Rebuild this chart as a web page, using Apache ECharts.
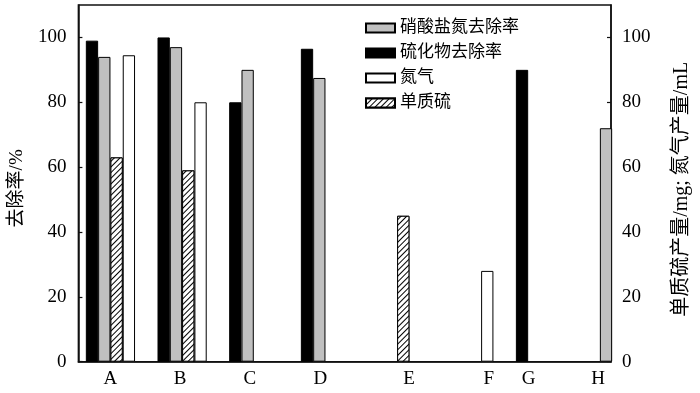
<!DOCTYPE html>
<html>
<head>
<meta charset="utf-8">
<script src="https://cdn.jsdelivr.net/npm/echarts@6/dist/echarts.min.js"></script>
<style>
html,body{margin:0;padding:0;background:#fff;}
#chart{width:700px;height:393px;}
</style>
</head>
<body>
<div id="chart"></div>
<script>
// ---- data ----
const categories = ['A', 'B', 'C', 'D', 'E', 'F', 'G', 'H'];
const sulfideRemoval = [99, 100, 80, 96.5, null, null, 90, null];     // 硫化物去除率 (%)
const nitrateRemoval = [94, 97, 90, 87.5, null, null, null, 72];      // 硝酸盐氮去除率 (%)
const sulfurYield = [63, 59, null, null, 45, null, null, null];       // 单质硫产量 (mg)
const nitrogenYield = [94.5, 80, null, null, null, 28, null, null];   // 氮气产量 (mL)
const yTicks = [0, 20, 40, 60, 80, 100];

const seriesNames = {
  nitrate: '硝酸盐氮去除率',
  sulfide: '硫化物去除率',
  nitrogen: '氮气',
  sulfur: '单质硫'
};

// layout only: small horizontal nudges (px) of the category letters, as in the original figure
const labelNudge = [0, -2, -4, -5, 12, 20, -12, -14];

const toData = arr => arr.map(v => (v == null ? '-' : v));

const FONT = "'Liberation Serif', 'Noto Sans CJK SC', serif";
const AXIS_COLOR = '#111';

const chart = echarts.init(document.getElementById('chart'), null, { renderer: 'canvas' });

const labelRich = {};
labelNudge.forEach((n, i) => {
  labelRich['c' + i] = {
    fontFamily: FONT, fontSize: 19, color: '#000',
    padding: n >= 0 ? [0, 0, 0, 2 * n] : [0, -2 * n, 0, 0]
  };
});

const visibleY = (position, name, nameGap, fontSize, pad) => ({
  gridIndex: 0,
  type: 'value',
  position: position,
  min: 0,
  max: 110,
  interval: 20,
  name: name,
  nameLocation: 'middle',
  nameRotate: 90,
  nameGap: nameGap,
  nameTextStyle: { fontFamily: FONT, fontSize: fontSize, color: '#000', padding: pad },
  axisLine: { show: true, lineStyle: { color: AXIS_COLOR, width: 1.5 } },
  axisTick: { show: true, inside: true, length: 4, lineStyle: { color: AXIS_COLOR, width: 1.2 }, customValues: yTicks },
  axisLabel: { show: true, fontFamily: FONT, fontSize: 19, color: '#000', margin: position === 'left' ? 12 : 11, customValues: yTicks },
  splitLine: { show: false }
});

const hiddenY = (position) => ({
  gridIndex: 1,
  type: 'value',
  position: position,
  min: 0,
  max: 110,
  interval: 20,
  show: false,
  splitLine: { show: false }
});

const BAR_GAP = '0%';
const CAT_GAP = '31.35%';

const option = {
  animation: false,
  backgroundColor: '#fff',
  grid: [
    { left: 78, right: 77, top: 5, bottom: 31.3, show: true, borderColor: AXIS_COLOR, borderWidth: 1.5, backgroundColor: 'transparent' },
    { left: 74.6, width: 573.4, top: 5, bottom: 31.3 }
  ],
  legend: {
    orient: 'vertical',
    left: 360,
    top: 14.5,
    itemWidth: 29,
    itemHeight: 9,
    itemGap: 8,
    icon: 'rect',
    data: [seriesNames.nitrate, seriesNames.sulfide, seriesNames.nitrogen, seriesNames.sulfur],
    textStyle: { fontFamily: FONT, fontSize: 17, color: '#000' }
  },
  xAxis: [
    {
      gridIndex: 0, type: 'category', data: categories,
      axisLine: { show: true, lineStyle: { color: AXIS_COLOR, width: 1.5 } },
      axisTick: { show: false }, axisLabel: { show: false }, splitLine: { show: false }
    },
    {
      gridIndex: 1, type: 'category', data: categories,
      axisLine: { show: false }, axisTick: { show: false },
      axisLabel: {
        show: true, fontFamily: FONT, fontSize: 19, color: '#000', margin: 8,
        formatter: (value, index) => '{c' + index + '|' + value + '}',
        rich: labelRich
      },
      splitLine: { show: false }
    }
  ],
  yAxis: [
    visibleY('left', '去除率/%', 48, 19, [0, 10, 0, 0]),
    visibleY('right', '单质硫产量/mg; 氮气产量/mL', 61, 20, [0, 12, 0, 0]),
    hiddenY('left'),
    hiddenY('right')
  ],
  series: [
    {
      name: seriesNames.sulfide, type: 'bar', xAxisIndex: 1, yAxisIndex: 2,
      data: toData(sulfideRemoval),
      barGap: BAR_GAP, barCategoryGap: CAT_GAP,
      itemStyle: { color: '#000', borderColor: '#000', borderWidth: 1 }
    },
    {
      name: seriesNames.nitrate, type: 'bar', xAxisIndex: 1, yAxisIndex: 2,
      data: toData(nitrateRemoval),
      barGap: BAR_GAP, barCategoryGap: CAT_GAP,
      itemStyle: { color: '#c0c0c0', borderColor: '#000', borderWidth: 1 }
    },
    {
      name: seriesNames.sulfur, type: 'bar', xAxisIndex: 1, yAxisIndex: 3,
      data: toData(sulfurYield),
      barGap: BAR_GAP, barCategoryGap: CAT_GAP,
      itemStyle: {
        color: '#fff', borderColor: '#000', borderWidth: 1,
        decal: { symbol: 'rect', dashArrayX: [1, 0], dashArrayY: [1, 2.5], rotation: -Math.PI / 4, color: '#000', backgroundColor: '#fff' }
      }
    },
    {
      name: seriesNames.nitrogen, type: 'bar', xAxisIndex: 1, yAxisIndex: 3,
      data: toData(nitrogenYield),
      barGap: BAR_GAP, barCategoryGap: CAT_GAP,
      itemStyle: { color: '#fff', borderColor: '#000', borderWidth: 1 }
    }
  ]
};

chart.setOption(option);
</script>
</body>
</html>
